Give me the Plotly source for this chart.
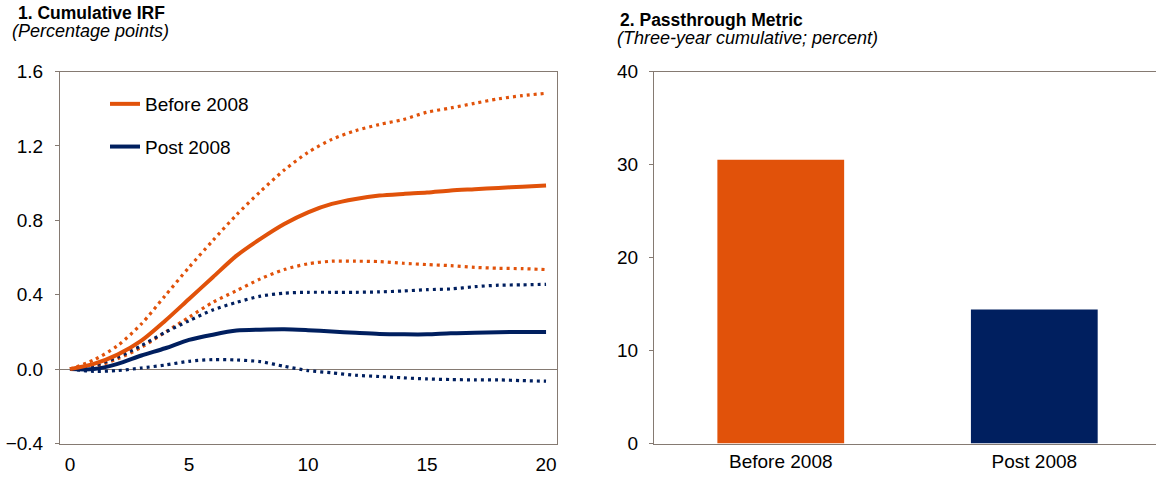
import plotly.graph_objects as go

# ---------------- data ----------------
horizon = list(range(0, 21))
before_mid = [0, 0.028, 0.078, 0.153, 0.26, 0.377, 0.494, 0.61, 0.70, 0.78, 0.843, 0.888,
              0.915, 0.933, 0.942, 0.949, 0.96, 0.967, 0.974, 0.981, 0.987]
before_hi = [0, 0.049, 0.126, 0.243, 0.395, 0.547, 0.691, 0.83, 0.955, 1.07, 1.165, 1.235,
             1.282, 1.315, 1.342, 1.381, 1.404, 1.429, 1.453, 1.47, 1.483]
before_lo = [0, 0.013, 0.055, 0.117, 0.198, 0.279, 0.359, 0.422, 0.485, 0.535, 0.566, 0.58,
             0.58, 0.578, 0.569, 0.562, 0.556, 0.547, 0.542, 0.54, 0.535]
post_mid = [0, 0.0, 0.028, 0.073, 0.112, 0.157, 0.185, 0.207, 0.212, 0.214, 0.209, 0.202,
            0.195, 0.189, 0.187, 0.187, 0.193, 0.195, 0.198, 0.2, 0.2]
post_hi = [0, 0.019, 0.064, 0.126, 0.198, 0.26, 0.318, 0.359, 0.392, 0.408, 0.413, 0.413,
           0.413, 0.415, 0.42, 0.427, 0.431, 0.443, 0.451, 0.453, 0.456]
post_lo = [0, -0.012, -0.008, 0.006, 0.022, 0.042, 0.051, 0.049, 0.04, 0.015, -0.008, -0.02,
           -0.033, -0.04, -0.047, -0.053, -0.056, -0.058, -0.058, -0.062, -0.065]

bar_categories = ["Before 2008", "Post 2008"]
bar_values = [30.5, 14.4]

left_yticks = [-0.4, 0.0, 0.4, 0.8, 1.2, 1.6]
left_xticks = [0, 5, 10, 15, 20]
right_yticks = [0, 10, 20, 30, 40]

# ---------------- style ----------------
ORANGE = "#E1520A"
NAVY = "#001F5F"
AXIS = "#857A72"
FONT = "Liberation Sans, Arial, sans-serif"
W, H = 1156, 480


def px_x(p):  # p: pixel position in the 1156x480 window
    return p / W


def px_y(p):
    return 1 - p / H


fig = go.Figure()

# left panel lines
for ys, col, name in [
    (before_hi, ORANGE, "Before 2008 upper"),
    (before_lo, ORANGE, "Before 2008 lower"),
    (post_hi, NAVY, "Post 2008 upper"),
    (post_lo, NAVY, "Post 2008 lower"),
]:
    fig.add_trace(go.Scatter(x=horizon, y=ys, mode="lines", name=name, showlegend=False,
                             line=dict(color=col, width=3.2, dash="3px,4px", shape="spline", smoothing=0.8),
                             xaxis="x", yaxis="y", hoverinfo="skip"))

fig.add_trace(go.Scatter(x=horizon, y=post_mid, mode="lines", name="Post 2008",
                         legendgroup="b", legendrank=2,
                         line=dict(color=NAVY, width=4, shape="spline", smoothing=0.8),
                         xaxis="x", yaxis="y"))
fig.add_trace(go.Scatter(x=horizon, y=before_mid, mode="lines", name="Before 2008",
                         legendgroup="a", legendrank=1,
                         line=dict(color=ORANGE, width=4, shape="spline", smoothing=0.8),
                         xaxis="x", yaxis="y"))

# right panel bars
fig.add_trace(go.Bar(x=bar_categories, y=bar_values, marker=dict(color=[ORANGE, NAVY], line=dict(width=0)),
                     width=0.5, showlegend=False, xaxis="x2", yaxis="y2"))

tickfont = dict(family=FONT, size=19, color="#000000")

fig.update_layout(
    width=W, height=H,
    margin=dict(l=0, r=0, t=0, b=0, autoexpand=False),
    paper_bgcolor="white", plot_bgcolor="white",
    font=dict(family=FONT, size=19, color="#000000"),
    hovermode=False,
    showlegend=True,
    legend=dict(x=px_x(105), y=px_y(85), xanchor="left", yanchor="top",
                bgcolor="rgba(0,0,0,0)", font=dict(family=FONT, size=19, color="#000"),
                tracegroupgap=15, itemwidth=30, traceorder="grouped"),
    xaxis=dict(domain=[px_x(60), px_x(557)], range=[-0.42, 20.46], tickvals=left_xticks,
               showline=True, linecolor=AXIS, linewidth=1, mirror=True, ticks="",
               showgrid=False, zeroline=False, tickfont=tickfont, ticklabelstandoff=4,
               anchor="y", automargin=False),
    yaxis=dict(domain=[px_y(443.5), px_y(71.5)], range=[-0.4, 1.6], tickvals=left_yticks,
               tickformat=".1f", showline=True, linecolor=AXIS, linewidth=1, mirror=True,
               ticks="outside", ticklen=4, tickcolor=AXIS, showgrid=False,
               zeroline=True, zerolinecolor=AXIS, zerolinewidth=1,
               tickfont=tickfont, ticklabelstandoff=8, anchor="x", automargin=False),
    xaxis2=dict(domain=[px_x(654), 1.0], range=[-0.5, 1.48], type="category",
                showline=True, linecolor=AXIS, linewidth=1, mirror=True, ticks="",
                showgrid=False, zeroline=False, tickfont=tickfont, ticklabelstandoff=1,
                anchor="y2", automargin=False),
    yaxis2=dict(domain=[px_y(443.5), px_y(71.5)], range=[0, 40], tickvals=right_yticks,
                showline=True, linecolor=AXIS, linewidth=1, mirror=False,
                ticks="outside", ticklen=4, tickcolor=AXIS, showgrid=False, zeroline=False,
                tickfont=tickfont, ticklabelstandoff=7, anchor="x2", automargin=False),
    bargap=0.5,
)

annotations = [
    dict(text="<b>1. Cumulative IRF</b>", x=px_x(16), y=px_y(13), size=17.5),
    dict(text="<i>(Percentage points)</i>", x=px_x(10), y=px_y(31), size=18),
    dict(text="<b>2. Passthrough Metric</b>", x=px_x(618), y=px_y(20), size=17.5),
    dict(text="<i>(Three-year cumulative; percent)</i>", x=px_x(615), y=px_y(38), size=18),
]
for a in annotations:
    fig.add_annotation(text=a["text"], x=a["x"], y=a["y"], xref="paper", yref="paper",
                       xanchor="left", yanchor="middle", showarrow=False,
                       font=dict(family=FONT, size=a["size"], color="#000"))

# remove the browser's default 8px page margin so the figure sits at the window corner
fig.write_html("out.html", config={"displayModeBar": False, "staticPlot": True},
               post_script="document.body.style.margin='0';")
